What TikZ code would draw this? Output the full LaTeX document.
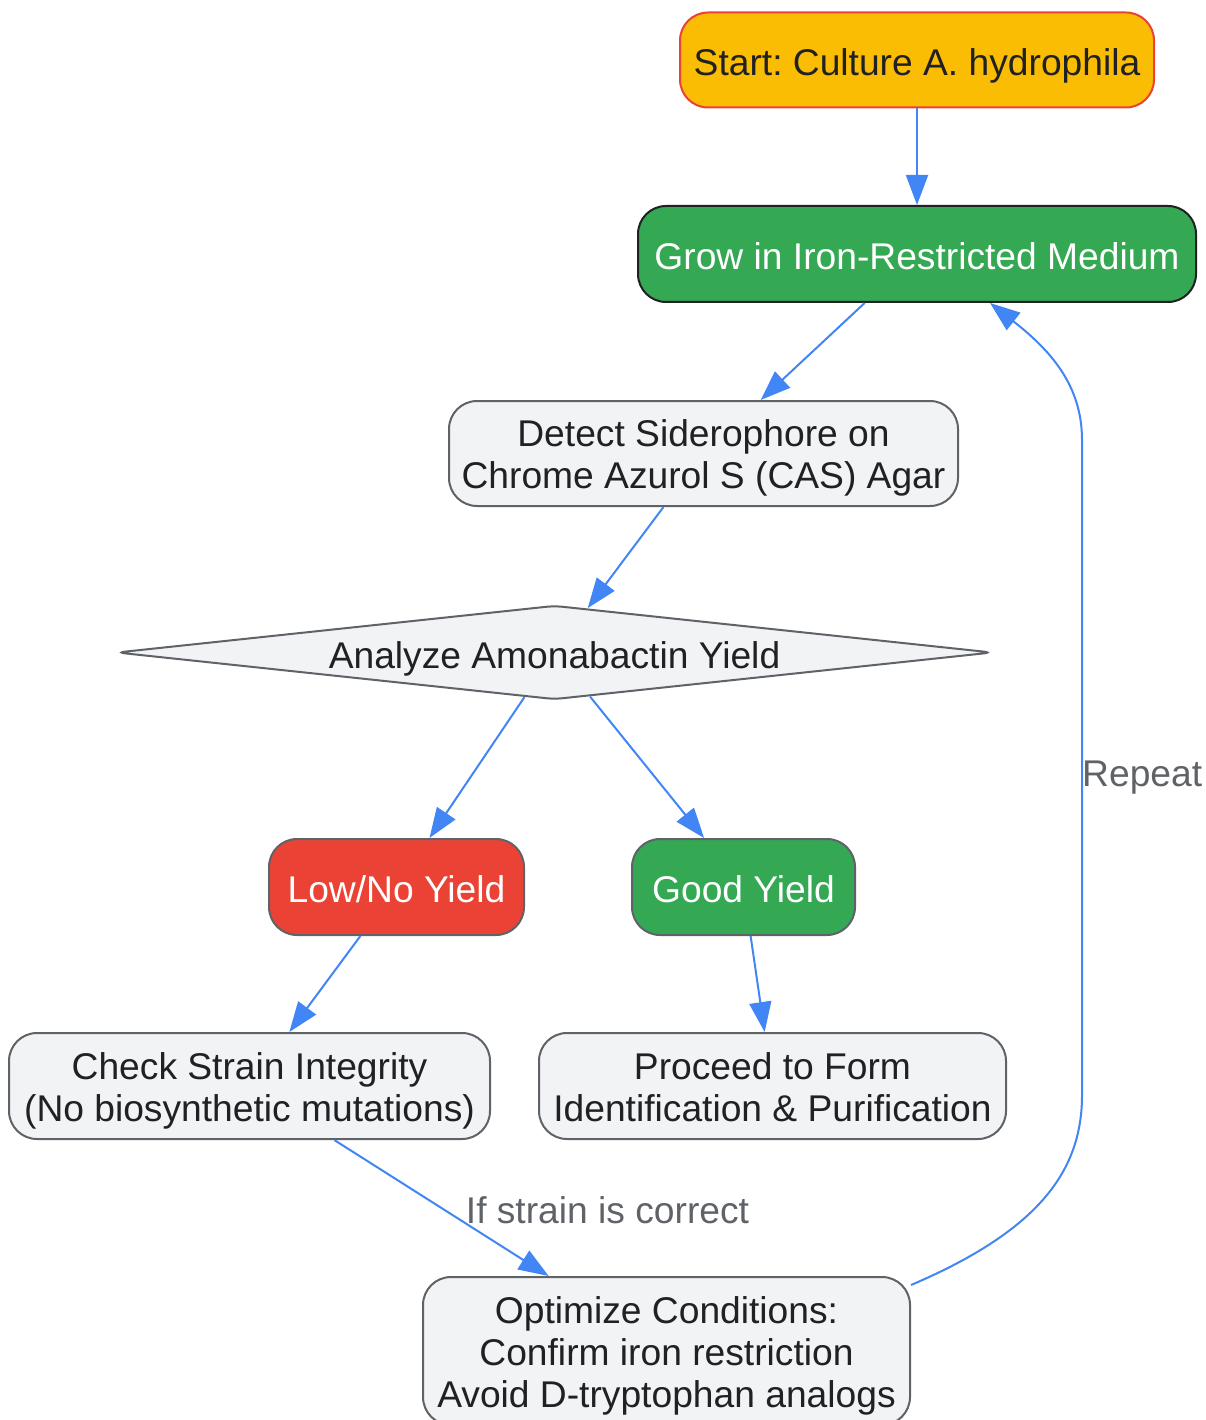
\documentclass[tikz,border=0pt]{standalone}
\usepackage{fontspec}
\setmainfont{Liberation Sans}
\usetikzlibrary{arrows.meta,shapes.geometric,calc}
\definecolor{gyellow}{HTML}{FBBC04}
\definecolor{gred}{HTML}{EA4335}
\definecolor{ggreen}{HTML}{34A853}
\definecolor{gfill}{HTML}{F1F3F4}
\definecolor{gstroke}{HTML}{5F6368}
\definecolor{gblue}{HTML}{4285F4}
\definecolor{gtext}{HTML}{202124}
\definecolor{glabel}{HTML}{5F6368}
\begin{document}
\frenchspacing
\begin{tikzpicture}[x=1pt,y=-1pt,
  box/.style={rectangle, rounded corners=28pt, draw=gstroke, line width=2pt, fill=gfill, text=gtext,
    inner sep=0pt, align=center, font=\fontsize{37.2}{42}\selectfont\frenchspacing,
    text height=31pt, text depth=0pt},
  twoline/.style={text height=70pt, text depth=0pt},
  threeline/.style={text height=113pt, text depth=0pt},
  startbox/.style={box, fill=gyellow, draw=gred},
  growbox/.style={box, fill=ggreen, draw=gtext, text=white},
  lowbox/.style={box, fill=gred, text=white},
  goodbox/.style={box, fill=ggreen, text=white},
  dmd/.style={shape=diamond, shape aspect=9.3, draw=gstroke, line width=2pt, fill=gfill, text=gtext,
    inner sep=0pt, minimum width=876pt, minimum height=94pt, rounded corners=8pt,
    font=\fontsize{37.2}{42}\selectfont, text height=31pt, text depth=0pt},
  edge/.style={draw=gblue, line width=2pt, -{Triangle[length=30pt,width=22pt]}},
  elabel/.style={text=glabel, inner sep=0pt, font=\fontsize{37.2}{42}\selectfont}]
\useasboundingbox (0,0) rectangle (1206,1420);

\node[startbox, minimum width=474pt, minimum height=95pt] (start) at (917,60) {Start: Culture A. hydrophila};
\node[growbox, minimum width=558pt, minimum height=96pt] (grow) at (917,254) {Grow in Iron-Restricted Medium};
\node[box, twoline, minimum width=509pt, minimum height=105pt] (detect) at (703.5,453.5) {Detect Siderophore on\\Chrome Azurol S (CAS) Agar};
\node[dmd] (diam) at (554.5,652.5) {Analyze Amonabactin Yield};
\node[lowbox, minimum width=255pt, minimum height=96pt] (low) at (396.5,887) {Low/No Yield};
\node[goodbox, minimum width=223pt, minimum height=96pt] (good) at (743.5,887) {Good Yield};
\node[box, twoline, minimum width=481pt, minimum height=106pt] (check) at (249.5,1086) {Check Strain Integrity\\(No biosynthetic mutations)};
\node[box, twoline, minimum width=467pt, minimum height=106pt] (proceed) at (772.5,1086) {Proceed to Form\\Identification \& Purification};
\node[box, threeline, minimum width=487pt, minimum height=148pt] (opt) at (666.5,1351) {Optimize Conditions:\\Confirm iron restriction\\Avoid D-tryptophan analogs};

\coordinate (optout) at (911,1285);
\coordinate (growin) at ($(grow.south)+(73,0)$);

\draw[edge] (start) -- (grow);
\draw[edge] (grow) -- (detect);
\draw[edge] (detect) -- (diam);
\draw[edge] (diam) -- (low);
\draw[edge] (diam) -- (good);
\draw[edge] (low) -- (check);
\draw[edge] (good) -- (proceed);
\draw[edge] (check) -- (opt);
\draw[edge] (optout) .. controls (1040,1230) and (1082,1170) .. (1082,1095)
  -- (1082,440) .. controls (1082,385) and (1050,350) .. (growin);

\node[elabel, anchor=base] (lab1) at (607.5,1223) {If strain is correct};
\node[elabel, anchor=base west] (lab2) at (1082,786) {Repeat};
\end{tikzpicture}
\end{document}
